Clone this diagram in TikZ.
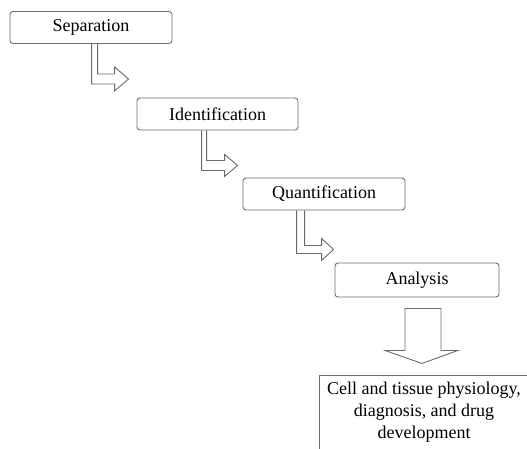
\documentclass[tikz,border=0pt]{standalone}
\usepackage{fontspec}
\setmainfont{Liberation Serif}
\usepackage{tikz}
\usetikzlibrary{positioning,calc}
\definecolor{linegray}{rgb}{0.42,0.42,0.42}

\begin{document}
\begin{tikzpicture}[x=1pt,y=-1pt,font=\fontsize{18}{22}\selectfont,
	stepbox/.style={rectangle,draw=linegray,line width=0.9pt,rounded corners=3pt,minimum width=162pt,minimum height=32pt,inner sep=0pt},
	endbox/.style={rectangle,draw=linegray,line width=0.9pt,align=center,inner sep=0pt},
	blockarrow/.style={draw=linegray,line width=0.9pt,line join=miter}]
		\useasboundingbox (0,0) rectangle (527,448);
		\node [stepbox] (sep) at (91, 27.5) {Separation};
		\node [stepbox,minimum width=161pt] (ident) at (217.5, 114) {Identification};
		\node [stepbox] (quant) at (324, 194) {Quantification};
		\node [stepbox,minimum width=164pt,minimum height=34pt] (ana) at (417, 280) {Analysis};
		\node [endbox,minimum width=210pt,minimum height=75pt] (use) at (424, 412.5) {Cell and tissue physiology,\\diagnosis, and drug\\development};
		% bent arrows between the steps
		\draw[blockarrow] ([xshift=82pt]sep.south west) -- ++(0,40) -- ++(23,0) -- ++(0,7) -- ++(14,-12) -- ++(-14,-12) -- ++(0,7) -- ++(-17,0) -- ++(0,-30);
		\draw[blockarrow] ([xshift=65pt]ident.south west) -- ++(0,40) -- ++(23,0) -- ++(0,6) -- ++(13,-11) -- ++(-13,-11) -- ++(0,6) -- ++(-18,0) -- ++(0,-30);
		\draw[blockarrow] ([xshift=54pt]quant.south west) -- ++(0,43) -- ++(25,0) -- ++(0,7) -- ++(12,-11) -- ++(-12,-11) -- ++(0,7) -- ++(-17,0) -- ++(0,-35);
		% down arrow to the result
		\draw[blockarrow] ([xshift=-12pt,yshift=-11pt]ana.south) -- ++(0,42) -- ++(-20,0) -- ++(37,13) -- ++(36,-13) -- ++(-17,0) -- ++(0,-42) -- cycle;
	\end{tikzpicture}
\end{document}
